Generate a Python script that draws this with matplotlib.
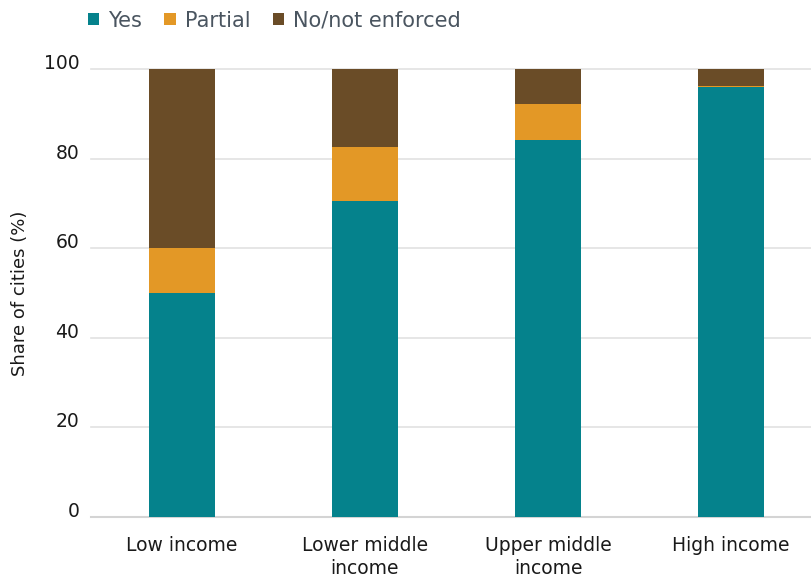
import matplotlib
matplotlib.use("Agg")
import matplotlib.pyplot as plt
import numpy as np

categories = ["Low income", "Lower middle\nincome", "Upper middle\nincome", "High income"]
yes = [50.0, 70.6, 84.1, 96.0]
partial = [10.0, 11.9, 8.1, 0.3]
no_enforced = [40.0, 17.5, 7.8, 3.7]
series_names = ["Yes", "Partial", "No/not enforced"]
colors = ["#05828C", "#E39826", "#6A4C27"]
y_ticks = [0, 20, 40, 60, 80, 100]

fig = plt.figure(figsize=(8.11, 5.81), dpi=100)
ax = fig.add_axes([90.5 / 811, 64 / 581, 1 - 90.5 / 811, 448 / 581])

x = np.arange(len(categories))
width = 0.36
bottom = np.zeros(len(categories))
handles = []
for vals, name, col in zip([yes, partial, no_enforced], series_names, colors):
    b = ax.bar(x, vals, width, bottom=bottom, color=col, label=name, zorder=3, linewidth=0)
    handles.append(b)
    bottom += np.array(vals)

ax.set_xlim(-0.5, (811 - 182) / 183)
ax.set_ylim(0, 100)
ax.set_yticks(y_ticks)
ax.yaxis.grid(True, color="#E2E2E2", linewidth=1.2, zorder=0)
for gl in ax.get_ygridlines():
    gl.set_clip_on(False)
ax.set_axisbelow(True)
for s in ["top", "right", "left"]:
    ax.spines[s].set_visible(False)
ax.spines["bottom"].set_color("#D4D4D4")
ax.spines["bottom"].set_linewidth(1.5)
ax.tick_params(axis="both", length=0)
ax.tick_params(axis="y", pad=8, labelsize=13.5, labelcolor="#1a1a1a")
ax.tick_params(axis="x", pad=14, labelsize=13.5, labelcolor="#1a1a1a")
ax.set_xticks(x)
ax.set_xticklabels(categories, linespacing=1.25)
for lbl in ax.get_yticklabels():
    lbl.set_verticalalignment("baseline")

fig.text(20 / 811, 1 - 293 / 581, "Share of cities (%)", rotation=90,
         ha="center", va="center", fontsize=13, color="#1a1a1a")

fig.legend(handles=handles, labels=series_names, loc="upper left",
           bbox_to_anchor=(73 / 811, 1.0 + 4 / 581), ncol=3, frameon=False,
           fontsize=15, labelcolor="#4A5560", handlelength=0.55, handleheight=0.55,
           handletextpad=0.45, columnspacing=1.05, borderaxespad=0.3)

fig.savefig("out.png", dpi=100)
